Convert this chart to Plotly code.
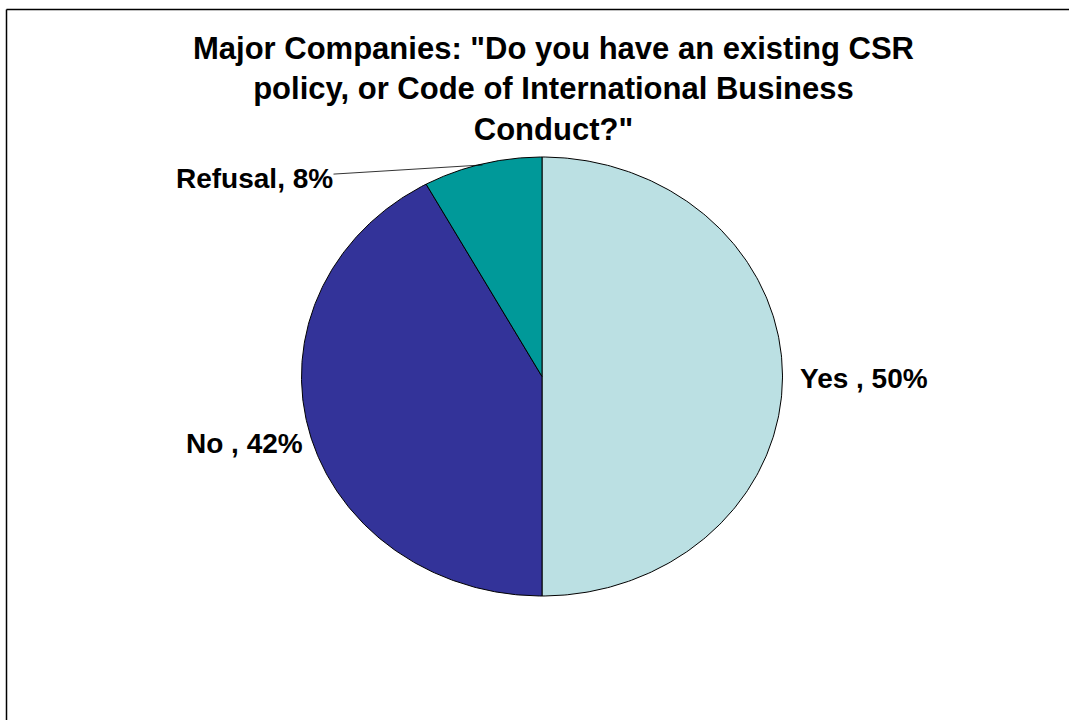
import numpy as np
import plotly.graph_objects as go

# Survey answers and their shares (percent)
categories = ["Yes", "No", "Refusal"]
shares = [50, 42, 8]
label_texts = ["Yes , 50%", "No , 42%", "Refusal, 8%"]
slice_colors = ["#BBE0E3", "#333399", "#009999"]

title_lines = [
    'Major Companies: "Do you have an existing CSR',
    "policy, or Code of International Business",
    'Conduct?"',
]

W, H = 1069, 720
# pie placement in pixels (centre and radii of the drawn ellipse)
CX, CY, RX, RY = 542.0, 376.5, 240.5, 219.5

fig = go.Figure()

# Axis ranges chosen so the unit circle in data space becomes the ellipse on screen
x_range = [-CX / RX, (W - CX) / RX]
y_range = [-(H - CY) / RY, CY / RY]

total = float(sum(shares))
start = 0.0
mids = []
for cat, val, col in zip(categories, shares, slice_colors):
    frac0 = start / total
    frac1 = (start + val) / total
    # clockwise from 12 o'clock
    t = np.linspace(np.pi / 2 - 2 * np.pi * frac0, np.pi / 2 - 2 * np.pi * frac1, 240)
    xs = np.concatenate([[0.0], np.cos(t), [0.0]])
    ys = np.concatenate([[0.0], np.sin(t), [0.0]])
    fig.add_trace(go.Scatter(
        x=xs, y=ys, mode="lines", fill="toself", fillcolor=col,
        line=dict(color="black", width=1), name=cat, hoverinfo="name",
    ))
    tm = np.pi / 2 - 2 * np.pi * (frac0 + frac1) / 2
    mids.append((np.cos(tm), np.sin(tm)))
    start += val

label_font = dict(family="Liberation Sans, Arial, sans-serif", size=28, color="black")

# Yes label: right of its slice
fig.add_annotation(x=mids[0][0], y=mids[0][1], xref="x", yref="y", text="<b>%s</b>" % label_texts[0],
                   showarrow=False, xanchor="left", yanchor="middle", xshift=15, yshift=-2,
                   font=label_font)
# No label: left of its slice
fig.add_annotation(x=mids[1][0], y=mids[1][1], xref="x", yref="y", text="<b>%s</b>" % label_texts[1],
                   showarrow=False, xanchor="right", yanchor="middle", xshift=-4, yshift=-12,
                   font=label_font)
# Refusal label with a leader line to the slice
fig.add_annotation(x=mids[2][0] * 0.995, y=mids[2][1] * 0.995, xref="x", yref="y",
                   text="<b>%s</b>" % label_texts[2],
                   showarrow=True, arrowhead=0, arrowwidth=0.8, arrowcolor="black",
                   ax=-228, ay=14, standoff=0, borderpad=0,
                   xanchor="center", yanchor="middle", font=label_font)

# Chart title
fig.add_annotation(x=553 / W, y=1 - 29 / H, xref="paper", yref="paper",
                   text="<b>" + "<br>".join(title_lines) + "</b>",
                   showarrow=False, xanchor="center", yanchor="top", align="center",
                   font=dict(family="Liberation Sans, Arial, sans-serif", size=31, color="black"))

# Chart frame: top and left edges (the rest lies past the page)
frame = dict(color="black", width=1.5)
fig.add_shape(type="line", xref="paper", yref="paper",
              x0=6.5 / W, x1=1.05, y0=1 - 9.5 / H, y1=1 - 9.5 / H, line=frame)
fig.add_shape(type="line", xref="paper", yref="paper",
              x0=6.5 / W, x1=6.5 / W, y0=-0.05, y1=1 - 9.5 / H, line=frame)

fig.update_layout(
    width=W, height=H,
    margin=dict(l=0, r=0, t=0, b=0),
    paper_bgcolor="white", plot_bgcolor="white",
    showlegend=False,
    xaxis=dict(range=x_range, visible=False, fixedrange=True),
    yaxis=dict(range=y_range, visible=False, fixedrange=True),
)

fig.write_html("out.html", config={"displayModeBar": False})
